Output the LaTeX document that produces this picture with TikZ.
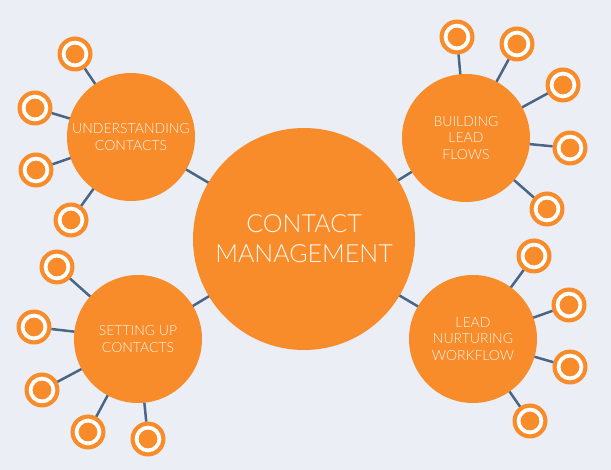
\documentclass[tikz,border=0pt]{standalone}
\usepackage{fontspec}
\setmainfont{Lato}[UprightFont={* Light}]
\definecolor{bg}{HTML}{EBEFF5}
\definecolor{org}{HTML}{F88B2A}
\definecolor{conn}{HTML}{4A6585}
\definecolor{txt}{HTML}{FFF6EC}
\tikzset{
  hub/.style={circle, fill=org, inner sep=0pt, outer sep=0pt, minimum size=222pt, text=txt, align=center, font=\fontsize{25}{30}\selectfont},
  sat/.style={circle, fill=org, inner sep=0pt, outer sep=0pt, minimum size=128pt, text=txt, align=center, font=\fontsize{14}{16.5}\selectfont},
  ring/.style={circle, fill=org, inner sep=0pt, outer sep=0pt, minimum size=35pt,
    path picture={\draw[white, line width=3.8pt] (path picture bounding box.center) circle (11.4pt);}},
  link/.style={draw=conn, line width=2.5pt}
}
\begin{document}
\begin{tikzpicture}[x=1pt,y=-1pt]
\useasboundingbox[fill=bg] (0,0) rectangle (611,470);
% nodes
\node[hub] (c) at (304,239) {CONTACT\\MANAGEMENT};
\node[sat] (tl) at (131,137) {UNDERSTANDING\\CONTACTS};
\node[sat] (tr) at (466,138) {BUILDING\\LEAD\\FLOWS};
\node[sat] (bl) at (138,339) {SETTING UP\\CONTACTS};
\node[sat] (br) at (473,339) {LEAD\\NURTURING\\WORKFLOW};
% rings
\node[ring] (tl1) at (75,54) {};
\node[ring] (tl2) at (35,108) {};
\node[ring] (tl3) at (36,170) {};
\node[ring] (tl4) at (71,220) {};
\node[ring] (tr1) at (457,37) {};
\node[ring] (tr2) at (517,44) {};
\node[ring] (tr3) at (563,85) {};
\node[ring] (tr4) at (570,148) {};
\node[ring] (tr5) at (547,209) {};
\node[ring] (bl1) at (57,267) {};
\node[ring] (bl2) at (34,327) {};
\node[ring] (bl3) at (42,390) {};
\node[ring] (bl4) at (88,432) {};
\node[ring] (bl5) at (148,439) {};
\node[ring] (br1) at (534,256) {};
\node[ring] (br2) at (569,305) {};
\node[ring] (br3) at (570,367) {};
\node[ring] (br4) at (530,421) {};
% connectors
\foreach \s in {tl,tr,bl,br} {\draw[link] (c) -- (\s);}
\foreach \r in {tl1,tl2,tl3,tl4} {\draw[link] (tl) -- (\r);}
\foreach \r in {tr1,tr2,tr3,tr4,tr5} {\draw[link] (tr) -- (\r);}
\foreach \r in {bl1,bl2,bl3,bl4,bl5} {\draw[link] (bl) -- (\r);}
\foreach \r in {br1,br2,br3,br4} {\draw[link] (br) -- (\r);}
\end{tikzpicture}
\end{document}
